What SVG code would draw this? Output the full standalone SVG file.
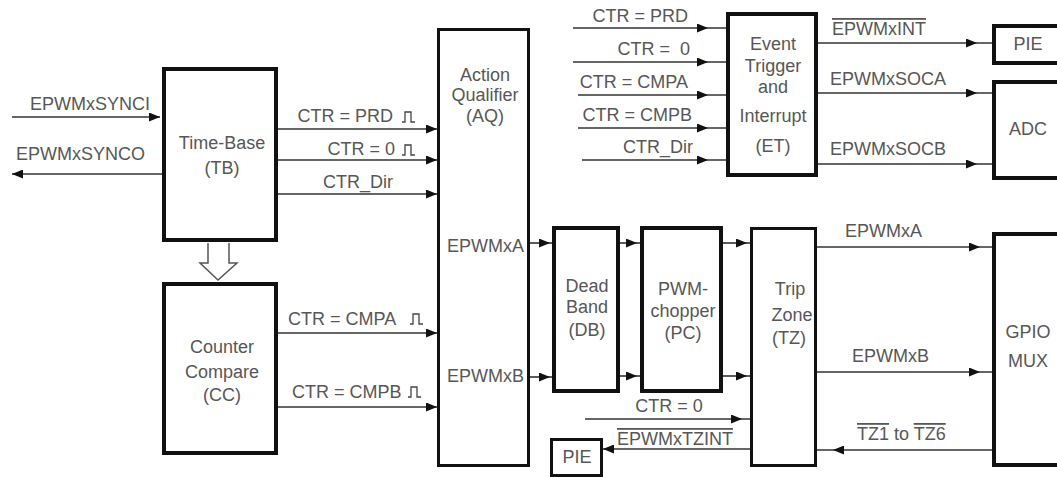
<svg xmlns="http://www.w3.org/2000/svg" width="1057" height="477" viewBox="0 0 1057 477">
<style>
.box{fill:#fff;stroke:#111;stroke-width:4}
.thin{stroke-width:3}
.t{font-family:"Liberation Sans",Arial,sans-serif;font-size:18px;fill:#575757}
.m{text-anchor:middle}
.e{text-anchor:end}
.c{fill:none;stroke:#333;stroke-width:1.6}
.p{fill:none;stroke:#444;stroke-width:1.3}
.ol{text-decoration:overline}
</style>
<defs>
<marker id="ah" markerUnits="userSpaceOnUse" markerWidth="11" markerHeight="9" refX="11" refY="4.5" orient="auto">
<path d="M0,0 L11,4.5 L0,9 Z" fill="#111"/>
</marker>
</defs>
<rect width="1057" height="477" fill="#fff"/>

<g id="connectors">
<path class="c" d="M12 117 H160" marker-end="url(#ah)"/>
<path class="c" d="M162 174 H12" marker-end="url(#ah)"/>
<path class="c" d="M278 129 H437" marker-end="url(#ah)"/>
<path class="c" d="M278 160 H437" marker-end="url(#ah)"/>
<path class="c" d="M278 194 H437" marker-end="url(#ah)"/>
<path class="c" d="M278 333 H437" marker-end="url(#ah)"/>
<path class="c" d="M278 407 H437" marker-end="url(#ah)"/>
<path class="c" d="M530 243 H550 H552" marker-mid="url(#ah)"/>
<path class="c" d="M530 377 H550 H552" marker-mid="url(#ah)"/>
<path class="c" d="M620 243 H637 H640" marker-mid="url(#ah)"/>
<path class="c" d="M620 376 H637 H640" marker-mid="url(#ah)"/>
<path class="c" d="M723 243 H747 H750" marker-mid="url(#ah)"/>
<path class="c" d="M723 376 H747 H750" marker-mid="url(#ah)"/>
<path class="c" d="M573 28 H708 H726" marker-mid="url(#ah)"/>
<path class="c" d="M573 62 H708 H726" marker-mid="url(#ah)"/>
<path class="c" d="M578 95 H708 H726" marker-mid="url(#ah)"/>
<path class="c" d="M578 128 H708 H726" marker-mid="url(#ah)"/>
<path class="c" d="M582 160 H708 H726" marker-mid="url(#ah)"/>
<path class="c" d="M818 43 H977 H992" marker-mid="url(#ah)"/>
<path class="c" d="M818 93 H977 H992" marker-mid="url(#ah)"/>
<path class="c" d="M818 164 H977 H992" marker-mid="url(#ah)"/>
<path class="c" d="M817 247 H980 H992" marker-mid="url(#ah)"/>
<path class="c" d="M817 372 H980 H992" marker-mid="url(#ah)"/>
<path class="c" d="M992 450 H833 H817" marker-mid="url(#ah)"/>
<path class="c" d="M585 419 H742 H750" marker-mid="url(#ah)"/>
<path class="c" d="M750 449 H603" marker-end="url(#ah)"/>
<path d="M208 243 V263 H200 L218 280 L237 263 H229 V243" fill="#fff" stroke="#555" stroke-width="1.5"/>

<text class="t" x="30" y="110">EPWMxSYNCI</text>
<text class="t" x="16" y="160">EPWMxSYNCO</text>
<text class="t e" x="393" y="122">CTR = PRD</text>
<text class="t e" x="395" y="155">CTR = 0</text>
<text class="t e" x="393" y="188">CTR_Dir</text>
<text class="t" x="288" y="325">CTR = CMPA</text>
<text class="t" x="292" y="398">CTR = CMPB</text>
<path class="p" d="M402 122 H405 V112 H411 V122 H415"/>
<path class="p" d="M402 155 H405 V145 H411 V155 H415"/>
<path class="p" d="M410 324 H413 V314 H419 V324 H423"/>
<path class="p" d="M408 397 H411 V387 H417 V397 H421"/>

<text class="t e" x="688" y="22">CTR = PRD</text>
<text class="t e" x="690" y="55" xml:space="preserve">CTR =  0</text>
<text class="t e" x="688" y="88">CTR = CMPA</text>
<text class="t e" x="692" y="121">CTR = CMPB</text>
<text class="t e" x="693" y="153">CTR_Dir</text>

<text class="t" x="832" y="35"><tspan class="ol">EPWMxINT</tspan></text>
<text class="t" x="830" y="85">EPWMxSOCA</text>
<text class="t" x="830" y="155">EPWMxSOCB</text>

<text class="t" x="845" y="237">EPWMxA</text>
<text class="t" x="852" y="362">EPWMxB</text>
<text class="t" x="857" y="440"><tspan class="ol">TZ1</tspan> to <tspan class="ol">TZ6</tspan></text>

<text class="t m" x="669" y="412">CTR = 0</text>
<text class="t" x="617" y="445"><tspan class="ol">EPWMxTZINT</tspan></text>
</g>

<g id="tb">
<rect class="box" x="164" y="69" width="112" height="171"/>
<text class="t m" x="222" y="149">Time-Base</text>
<text class="t m" x="222" y="174">(TB)</text>
</g>

<g id="cc">
<rect class="box" x="164" y="284" width="112" height="169"/>
<text class="t m" x="222" y="353">Counter</text>
<text class="t m" x="222" y="378">Compare</text>
<text class="t m" x="222" y="401">(CC)</text>
</g>

<g id="aq">
<rect class="box thin" x="438.5" y="29.5" width="90" height="436"/>
<text class="t m" x="485" y="81">Action</text>
<text class="t m" x="485" y="101">Qualifier</text>
<text class="t m" x="485" y="122">(AQ)</text>
<text class="t e" x="524" y="252">EPWMxA</text>
<text class="t e" x="524" y="382">EPWMxB</text>
</g>

<g id="db">
<rect class="box" x="554" y="228" width="64" height="163"/>
<text class="t m" x="587" y="292">Dead</text>
<text class="t m" x="587" y="313">Band</text>
<text class="t m" x="587" y="336">(DB)</text>
</g>

<g id="pc">
<rect class="box" x="642" y="228" width="79" height="163"/>
<text class="t m" x="683" y="295">PWM-</text>
<text class="t m" x="683" y="317">chopper</text>
<text class="t m" x="683" y="339">(PC)</text>
</g>

<g id="tz">
<rect class="box thin" x="751.5" y="228.5" width="64" height="237"/>
<text class="t m" x="790" y="295">Trip</text>
<text class="t m" x="792" y="321">Zone</text>
<text class="t m" x="789" y="344">(TZ)</text>
</g>

<g id="et">
<rect class="box" x="728" y="14" width="88" height="161"/>
<text class="t m" x="773" y="50">Event</text>
<text class="t m" x="773" y="72">Trigger</text>
<text class="t m" x="773" y="93">and</text>
<text class="t m" x="773" y="122">Interrupt</text>
<text class="t m" x="773" y="152">(ET)</text>
</g>

<g id="pie-top">
<rect class="box" x="994" y="26" width="70" height="37"/>
<text class="t m" x="1028" y="50">PIE</text>
</g>

<g id="adc">
<rect class="box" x="994" y="82" width="70" height="96"/>
<text class="t m" x="1028" y="135">ADC</text>
</g>

<g id="gpio">
<rect class="box" x="994" y="234" width="70" height="231"/>
<text class="t m" x="1028" y="338">GPIO</text>
<text class="t m" x="1028" y="367">MUX</text>
</g>

<g id="pie-bottom">
<rect class="box thin" x="551.5" y="439.5" width="50" height="36"/>
<text class="t m" x="577" y="463">PIE</text>
</g>
</svg>
